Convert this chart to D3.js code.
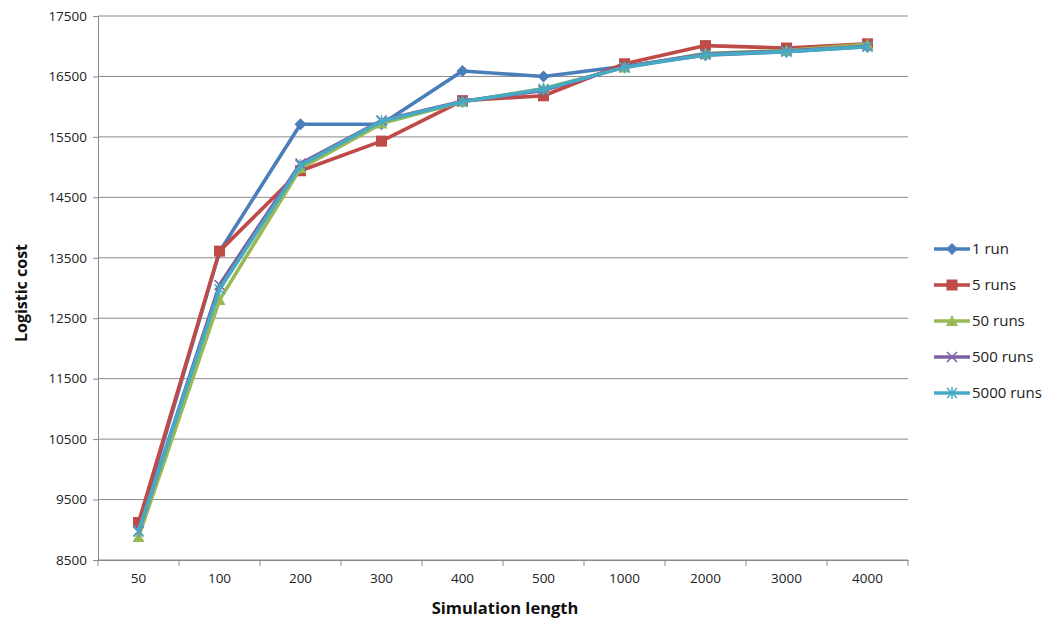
<!DOCTYPE html>
<html><head><meta charset="utf-8">
<script src="https://cdn.jsdelivr.net/npm/d3@7"></script>
<style>body{margin:0;background:#fff;} svg{display:block;}</style>
</head><body>
<svg id="c" width="1064" height="623"></svg>
<script>
const categories = ["50","100","200","300","400","500","1000","2000","3000","4000"];
const yTicks = [8500,9500,10500,11500,12500,13500,14500,15500,16500,17500];
const seriesNames = ["1 run","5 runs","50 runs","500 runs","5000 runs"];
const run1    = [9050,13600,15710,15710,16590,16500,16670,16850,16910,16990];
const runs5   = [9120,13610,14940,15430,16100,16180,16710,17010,16970,17040];
const runs50  = [8880,12800,14980,15720,16080,16300,16650,16880,16930,17030];
const runs500 = [8970,13050,15060,15770,16090,16270,16660,16870,16920,17000];
const runs5000= [8980,12980,15030,15760,16080,16290,16650,16860,16910,16990];
const colors = ["#4A7EBB","#BE4B48","#98B954","#7D60A0","#46AAC5"];
const shapes = ["diamond","square","triangle","x","star"];

const data = [run1,runs5,runs50,runs500,runs5000];
const svg = d3.select("#c");
const font = "'Open Sans', 'Liberation Sans', sans-serif";
const m = {l:98, r:908, t:16, b:560};

const x = d3.scaleBand().domain(categories).range([m.l, m.r]);
const y = d3.scaleLinear().domain([8500,17500]).range([m.b, m.t]);

// gridlines
svg.append("g").selectAll("line").data(yTicks).join("line")
  .attr("x1", m.l).attr("x2", m.r)
  .attr("y1", d=>y(d)).attr("y2", d=>y(d))
  .attr("stroke","#8a8a8a").attr("stroke-width",1);

// y axis
const ya = svg.append("g").attr("transform",`translate(${m.l},0)`)
  .call(d3.axisLeft(y).tickValues(yTicks).tickSize(5).tickPadding(6).tickFormat(d3.format("d")));
ya.select(".domain").attr("stroke","#8a8a8a");
ya.selectAll(".tick line").attr("stroke","#8a8a8a");
ya.selectAll("text").attr("font-family",font).attr("font-size",13.5).attr("fill","#222");

// x axis
const xa = svg.append("g").attr("transform",`translate(0,${m.b})`)
  .call(d3.axisBottom(x).tickSize(0).tickPadding(13));
xa.select(".domain").attr("stroke","#8a8a8a");
xa.selectAll("text").attr("font-family",font).attr("font-size",13.5).attr("fill","#222");
// tick marks between categories
svg.append("g").selectAll("line").data(d3.range(categories.length+1)).join("line")
  .attr("x1", i=>m.l + i*x.step()).attr("x2", i=>m.l + i*x.step())
  .attr("y1", m.b).attr("y2", m.b+6).attr("stroke","#8a8a8a");

// axis titles
svg.append("text").attr("x",505).attr("y",614).attr("text-anchor","middle")
  .attr("font-family",font).attr("font-weight","bold").attr("font-size",16.5).attr("fill","#111")
  .text("Simulation length");
svg.append("text").attr("transform",`translate(27,${(m.t+m.b)/2+5}) rotate(-90)`).attr("text-anchor","middle")
  .attr("font-family",font).attr("font-weight","bold").attr("font-size",16).attr("fill","#111")
  .text("Logistic cost");

function marker(g, shape, color, cx, cy){
  if(shape==="diamond"){
    g.append("path").attr("d",`M${cx},${cy-6}L${cx+6},${cy}L${cx},${cy+6}L${cx-6},${cy}Z`).attr("fill",color);
  } else if(shape==="square"){
    g.append("rect").attr("x",cx-5.5).attr("y",cy-5.5).attr("width",11).attr("height",11).attr("fill",color);
  } else if(shape==="triangle"){
    g.append("path").attr("d",`M${cx},${cy-6}L${cx+6},${cy+5}L${cx-6},${cy+5}Z`).attr("fill",color);
  } else if(shape==="x"){
    g.append("path").attr("d",`M${cx-5},${cy-5}L${cx+5},${cy+5}M${cx-5},${cy+5}L${cx+5},${cy-5}`).attr("stroke",color).attr("stroke-width",1.5);
  } else {
    g.append("path").attr("d",`M${cx-5},${cy-5}L${cx+5},${cy+5}M${cx-5},${cy+5}L${cx+5},${cy-5}M${cx},${cy-6}L${cx},${cy+6}`).attr("stroke",color).attr("stroke-width",1.5);
  }
}

const line = d3.line().x((d,i)=>x(categories[i])+x.bandwidth()/2).y(d=>y(d));
data.forEach((vals,si)=>{
  const g = svg.append("g");
  g.append("path").datum(vals).attr("d",line).attr("fill","none")
    .attr("stroke",colors[si]).attr("stroke-width",3.6).attr("stroke-linejoin","round");
  vals.forEach((v,i)=>marker(g, shapes[si], colors[si], x(categories[i])+x.bandwidth()/2, y(v)));
});

// legend
const lg = svg.append("g");
seriesNames.forEach((n,i)=>{
  const ly = 249 + i*36;
  lg.append("line").attr("x1",934).attr("x2",970).attr("y1",ly).attr("y2",ly)
    .attr("stroke",colors[i]).attr("stroke-width",3.6);
  marker(lg, shapes[i], colors[i], 952, ly);
  lg.append("text").attr("x",972).attr("y",ly+5).attr("font-family",font).attr("font-size",15)
    .attr("fill","#222").text(n);
});
</script>
</body></html>
